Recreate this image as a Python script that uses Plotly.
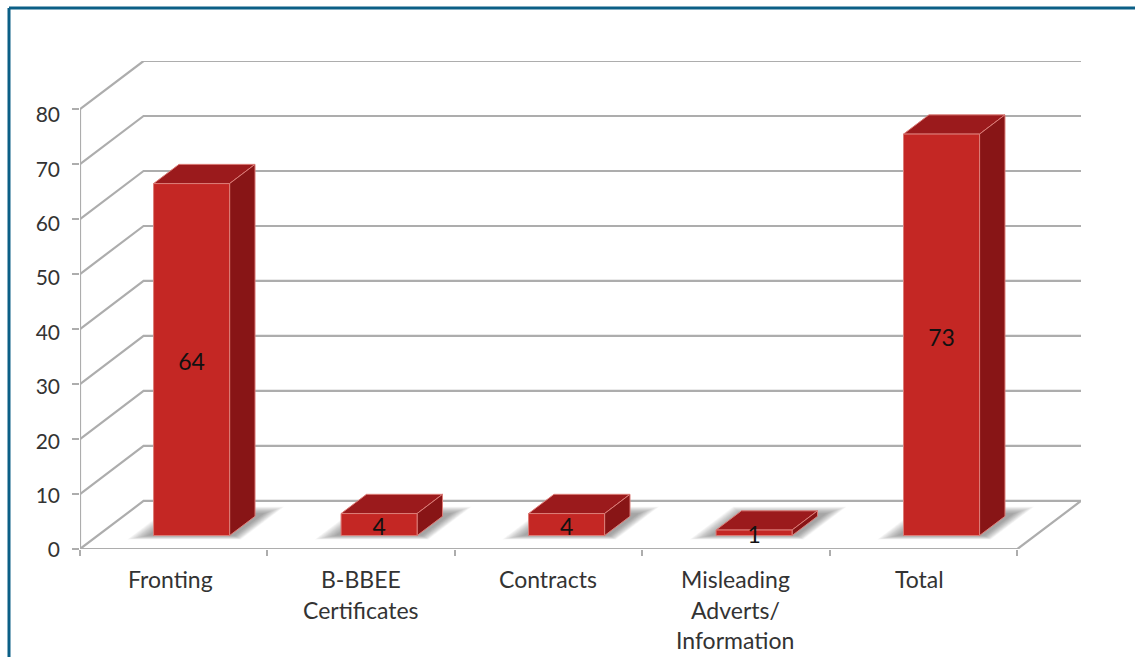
import plotly.graph_objects as go

# ---- data ----
categories = ["Fronting", "B-BBEE Certificates", "Contracts", "Misleading Adverts/ Information", "Total"]
values = [64, 4, 4, 1, 73]
category_lines = [["Fronting"], ["B-BBEE", "Certificates"], ["Contracts"],
                  ["Misleading", "Adverts/", "Information"], ["Total"]]
y_ticks = [0, 10, 20, 30, 40, 50, 60, 70, 80]

# ---- chart geometry (oblique projection, in axis units) ----
W, H = 1135, 657
L, R, T, B = 80, 54, 61, 104
DX = 0.339     # categories moved per full depth
DY = 8.74      # value units moved per full depth
X_MAX = len(categories) + DX
Y_MAX = 80 + DY
BAR_L, BAR_R = 0.2975, 0.7030
D_NEAR, D_FAR = 0.28, 0.68
GRID = "#adadad"
FONT = "Lato"
TEXT = "#333333"


def proj(x, v, d):
    return x + d * DX, v + d * DY


def poly(points):
    xs, ys = zip(*[proj(*p) for p in points + [points[0]]])
    return list(xs), list(ys)


fig = go.Figure()

# walls and floor
gx, gy = [], []
for v in y_ticks[1:]:
    a, b, c = proj(0, v, 0), proj(0, v, 1), proj(len(categories), v, 1)
    gx += [a[0], b[0], c[0], None]
    gy += [a[1], b[1], c[1], None]
a, b, c, d = proj(0, 0, 0), proj(0, 0, 1), proj(len(categories), 0, 1), proj(len(categories), 0, 0)
gx += [a[0], b[0], c[0], d[0], a[0]]
gy += [a[1], b[1], c[1], d[1], a[1]]
fig.add_trace(go.Scatter(x=gx, y=gy, mode="lines", line=dict(color=GRID, width=2.2),
                         hoverinfo="skip", showlegend=False, cliponaxis=False))

# blurred floor shadows
LAYERS = 14
for i in range(len(categories)):
    for k in range(LAYERS):
        t = k / (LAYERS - 1)
        x0 = i + 0.27 - 0.085 * t
        x1 = i + 0.73 + 0.06 * t
        d0 = 0.28 - 0.08 * t
        d1 = 0.74 + 0.14 * t
        xs, ys = poly([(x0, 0, d0), (x1, 0, d0), (x1, 0, d1), (x0, 0, d1)])
        fig.add_trace(go.Scatter(x=xs, y=ys, mode="lines", fill="toself", line=dict(width=0),
                                 fillcolor="rgba(60,60,60,0.045)", hoverinfo="skip", showlegend=False))

# bars
EDGE = "#dc7d78"
for i, v in enumerate(values):
    x0, x1 = i + BAR_L, i + BAR_R
    faces = [
        ([(x0, v, D_NEAR), (x1, v, D_NEAR), (x1, v, D_FAR), (x0, v, D_FAR)], "#9b1a1c"),
        ([(x1, 0, D_NEAR), (x1, 0, D_FAR), (x1, v, D_FAR), (x1, v, D_NEAR)], "#881516"),
        ([(x0, 0, D_NEAR), (x1, 0, D_NEAR), (x1, v, D_NEAR), (x0, v, D_NEAR)], "#c42724"),
    ]
    for pts, col in faces:
        xs, ys = poly(pts)
        fig.add_trace(go.Scatter(x=xs, y=ys, mode="lines", fill="toself", fillcolor=col,
                                 line=dict(color=EDGE, width=1), hoverinfo="skip",
                                 showlegend=False, name=categories[i]))

# value labels on the bar fronts
lx, ly = [], []
for i, v in enumerate(values):
    p = proj(i + (BAR_L + BAR_R) / 2, v / 2 - 0.9, D_NEAR)
    lx.append(p[0])
    ly.append(p[1])
fig.add_trace(go.Scatter(x=lx, y=ly, mode="text", text=[str(v) for v in values],
                         textposition="middle center",
                         textfont=dict(family=FONT, size=23, color="#111111"),
                         hoverinfo="skip", showlegend=False, cliponaxis=False))

# y labels sit on their own slightly tighter scale, as in the picture
fig.add_trace(go.Scatter(x=[0], y=[0], yaxis="y2", mode="markers", marker=dict(opacity=0),
                         hoverinfo="skip", showlegend=False))

# category labels, one real text per line
LABEL_NUDGE = [-3, 0, -1, -1, -4]
for i, lines in enumerate(category_lines):
    for j, line in enumerate(lines):
        fig.add_annotation(x=i + 0.5, y=0, xref="x", yref="y", text=line, showarrow=False,
                           xanchor="center", yanchor="middle", xshift=LABEL_NUDGE[i],
                           yshift=-(30 + 30.5 * j),
                           font=dict(family=FONT, size=23, color=TEXT))

# page frame
def px(x):
    return (x - L) / (W - L - R)


def py(y):
    return (H - B - y) / (H - T - B)


frame = dict(color="#0b5f86", width=3)
fig.add_shape(type="line", xref="paper", yref="paper", x0=px(9), x1=px(W), y0=py(8), y1=py(8), line=frame)
fig.add_shape(type="line", xref="paper", yref="paper", x0=px(9), x1=px(9), y0=py(8), y1=py(H), line=frame)

fig.update_layout(
    width=W, height=H, margin=dict(l=L, r=R, t=T, b=B, pad=0),
    paper_bgcolor="white", plot_bgcolor="rgba(0,0,0,0)", showlegend=False,
    xaxis=dict(range=[0, X_MAX], tickvals=list(range(len(categories) + 1)), ticktext=[""] * (len(categories) + 1),
               ticks="outside", ticklen=6, tickwidth=1.5, tickcolor=GRID, showgrid=False, zeroline=False,
               showline=False, fixedrange=True),
    yaxis=dict(domain=[4 / (H - T - B), 1], range=[0, Y_MAX], tickvals=y_ticks, ticktext=[""] * len(y_ticks),
               ticks="outside", ticklen=7, tickwidth=1.5, tickcolor=GRID, showgrid=False, zeroline=False,
               showline=False, fixedrange=True),
    yaxis2=dict(domain=[0, 1], side="left", anchor="x", range=[-0.552, 89.93], tickvals=y_ticks,
                ticks="", showgrid=False, zeroline=False, showline=False, ticklabelstandoff=19,
                tickfont=dict(family=FONT, size=21, color=TEXT), fixedrange=True),
)
# y axis stem
fig.add_trace(go.Scatter(x=[0, 0], y=[0, 80], mode="lines", line=dict(color=GRID, width=2.2),
                         hoverinfo="skip", showlegend=False, cliponaxis=False))

fig.write_html("out.html", config=dict(displayModeBar=False),
               post_script="document.body.style.margin='0';")
